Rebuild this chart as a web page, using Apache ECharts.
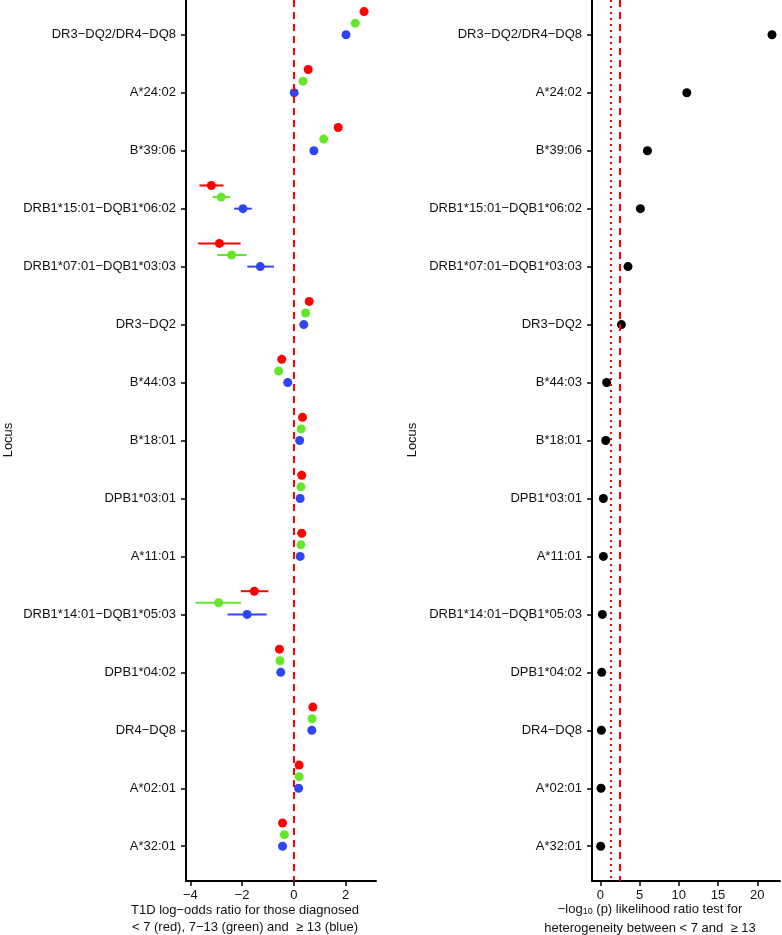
<!DOCTYPE html>
<html>
<head>
<meta charset="utf-8">
<script src="https://cdn.jsdelivr.net/npm/echarts@6/dist/echarts.min.js"></script>
<style>html,body{margin:0;padding:0;background:#fff;}#c{width:782px;height:935px;}</style>
</head>
<body>
<div id="c"></div>
<script>
const categories = ['DR3−DQ2/DR4−DQ8','A*24:02','B*39:06','DRB1*15:01−DQB1*06:02','DRB1*07:01−DQB1*03:03','DR3−DQ2','B*44:03','B*18:01','DPB1*03:01','A*11:01','DRB1*14:01−DQB1*05:03','DPB1*04:02','DR4−DQ8','A*02:01','A*32:01'];

const red     = [2.71, 0.55, 1.71, -3.19, -2.88, 0.59, -0.47, 0.33, 0.30, 0.30, -1.53, -0.56, 0.73, 0.20, -0.44];
const redLo   = [null, null, null, -3.65, -3.70, null, null, null, null, null, -2.05, null, null, null, null];
const redHi   = [null, null, null, -2.72, -2.06, null, null, null, null, null, -0.99, null, null, null, null];
const green   = [2.37, 0.35, 1.15, -2.81, -2.41, 0.45, -0.59, 0.28, 0.27, 0.27, -2.91, -0.54, 0.70, 0.20, -0.37];
const greenLo = [null, null, null, -3.14, -2.96, null, null, null, null, null, -3.80, null, null, null, null];
const greenHi = [null, null, null, -2.46, -1.83, null, null, null, null, null, -2.04, null, null, null, null];
const blue    = [2.01, 0.01, 0.77, -1.97, -1.30, 0.38, -0.24, 0.22, 0.24, 0.24, -1.81, -0.51, 0.69, 0.18, -0.44];
const blueLo  = [null, null, null, -2.31, -1.80, null, null, null, null, null, -2.56, null, null, null, null];
const blueHi  = [null, null, null, -1.63, -0.77, null, null, null, null, null, -1.05, null, null, null, null];

const hetLogP = [21.88, 11.02, 6.0, 5.1, 3.52, 2.68, 0.80, 0.68, 0.38, 0.38, 0.25, 0.17, 0.12, 0.08, 0.04];

const leftTicks = [-4, -2, 0, 2];
const rightTicks = [0, 5, 10, 15, 20];
const leftRef = [0];
const rightRefDotted = [1.30];
const rightRefDashed = [2.48];

const FONT = 'Liberation Sans, Arial, sans-serif';
const idx = categories.map((_, i) => i);
const minus = v => (v < 0 ? '−' + Math.abs(v) : String(v));

const groups = [
  {v: red, lo: redLo, hi: redHi, color: '#ff0000', off: -0.4},
  {v: green, lo: greenLo, hi: greenHi, color: '#66e62a', off: -0.2},
  {v: blue, lo: blueLo, hi: blueHi, color: '#2e46f2', off: 0}
];

function yAxisCfg(g) {
  return {
    type: 'value', gridIndex: g, inverse: true, min: -0.6, max: 14.6,
    axisLine: {show: true, onZero: false, lineStyle: {color: '#000', width: 2}},
    axisTick: {show: true, length: 5, customValues: idx, lineStyle: {color: '#000', width: 1.5}},
    axisLabel: {customValues: idx, formatter: v => categories[Math.round(v)], fontSize: 13, color: '#111', margin: 10, fontFamily: FONT},
    splitLine: {show: false}
  };
}
function xAxisCfg(g, min, max, ticks) {
  return {
    type: 'value', gridIndex: g, min: min, max: max,
    axisLine: {show: true, onZero: false, lineStyle: {color: '#000', width: 2}},
    axisTick: {show: true, length: 5, customValues: ticks, lineStyle: {color: '#000', width: 1.5}},
    axisLabel: {customValues: ticks, formatter: v => minus(v), fontSize: 13, color: '#111', margin: 8, fontFamily: FONT},
    splitLine: {show: false}
  };
}

const series = [];
series.push({
  type: 'scatter', xAxisIndex: 0, yAxisIndex: 0, data: [], z: 1,
  markLine: {silent: true, symbol: 'none', label: {show: false}, animation: false,
    lineStyle: {color: '#ff0000', type: [7, 5], width: 2},
    data: leftRef.map(v => ({xAxis: v}))}
});
series.push({
  type: 'scatter', xAxisIndex: 1, yAxisIndex: 1, data: [], z: 1,
  markLine: {silent: true, symbol: 'none', label: {show: false}, animation: false,
    data: rightRefDotted.map(v => ({xAxis: v, lineStyle: {color: '#ff0000', type: [2, 4], width: 2}}))
      .concat(rightRefDashed.map(v => ({xAxis: v, lineStyle: {color: '#ff0000', type: [7, 5], width: 2}})))}
});
groups.forEach(gr => {
  const data = [];
  gr.v.forEach((v, i) => { if (gr.lo[i] != null) data.push([gr.lo[i], gr.hi[i], i + gr.off]); });
  series.push({
    type: 'custom', xAxisIndex: 0, yAxisIndex: 0, z: 2,
    encode: {x: [0, 1], y: 2},
    renderItem: (params, api) => {
      const p1 = api.coord([api.value(0), api.value(2)]);
      const p2 = api.coord([api.value(1), api.value(2)]);
      return {type: 'line', shape: {x1: p1[0], y1: p1[1], x2: p2[0], y2: p2[1]}, style: {stroke: gr.color, lineWidth: 2}};
    },
    data: data
  });
});
groups.forEach(gr => {
  series.push({
    type: 'scatter', xAxisIndex: 0, yAxisIndex: 0, z: 3, symbolSize: 9,
    itemStyle: {color: gr.color, opacity: 1},
    data: gr.v.map((v, i) => [v, i + gr.off])
  });
});
series.push({
  type: 'scatter', xAxisIndex: 1, yAxisIndex: 1, z: 3, symbolSize: 9,
  itemStyle: {color: '#000', opacity: 1},
  data: hetLogP.map((v, i) => [v, i])
});

const txt = (x, y, text) => ({
  type: 'text', x: x, y: y, silent: true,
  style: {text: text, fontSize: 13, fontFamily: FONT, fill: '#111', align: 'center', verticalAlign: 'middle'}
});

const chart = echarts.init(document.getElementById('c'), null, {renderer: 'canvas'});
chart.setOption({
  animation: false,
  backgroundColor: '#fff',
  grid: [
    {left: 186, top: 0, width: 190, height: 881},
    {left: 592, top: 0, width: 188, height: 881}
  ],
  xAxis: [xAxisCfg(0, -4.17, 3.17, leftTicks), xAxisCfg(1, -1.07, 22.9, rightTicks)],
  yAxis: [yAxisCfg(0), yAxisCfg(1)],
  series: series,
  graphic: [
    txt(245, 910, 'T1D log−odds ratio for those diagnosed'),
    txt(245, 927, '< 7 (red), 7−13 (green) and  ≥ 13 (blue)'),
    {type: 'text', x: 650, y: 909, silent: true,
     style: {text: '{a|−log}{s|10}{a| (p) likelihood ratio test for}', align: 'center', verticalAlign: 'middle',
       rich: {a: {fontSize: 13, fontFamily: FONT, fill: '#111', color: '#111'},
              s: {fontSize: 9, fontFamily: FONT, fill: '#111', color: '#111', padding: [6, 0, 0, 0]}}}},
    txt(650, 928, 'heterogeneity between < 7 and  ≥ 13'),
    Object.assign(txt(8, 440, 'Locus'), {rotation: Math.PI / 2}),
    Object.assign(txt(412, 440, 'Locus'), {rotation: Math.PI / 2})
  ]
});
</script>
</body>
</html>
